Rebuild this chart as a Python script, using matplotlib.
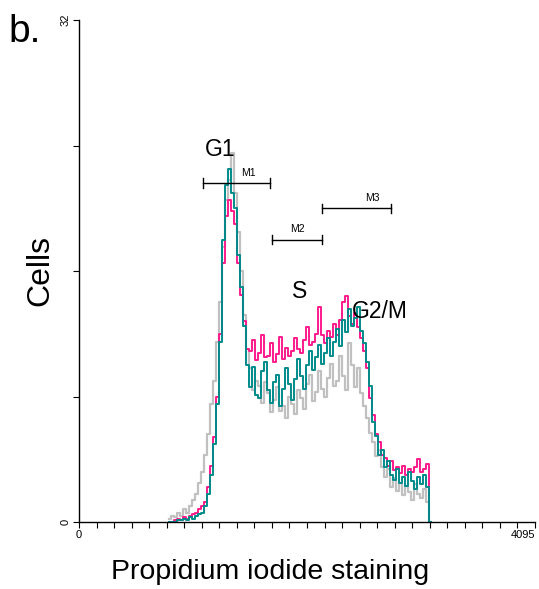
import numpy as np
import matplotlib
matplotlib.use("Agg")
import matplotlib.pyplot as plt

plt.rcParams['font.family'] = ['Liberation Sans', 'DejaVu Sans']

# histogram channels (bin centres, data units 0..4095)
bin_start = 810
bin_width = 27
gray = [0.2, 0.4, 0.3, 0.6, 0.4, 0.8, 0.6, 1.0, 1.4, 1.8,
        2.5, 3.2, 4.3, 5.6, 7.5, 9.0, 11.5, 14.0, 17.5, 20.5,
        21.8, 23.5, 21.0, 18.5, 16.0, 13.2, 11.0, 9.8, 8.4, 9.0,
        8.7, 7.6, 8.9, 8.2, 7.0, 7.8, 8.6, 7.1, 7.4, 6.6,
        8.0, 7.5, 6.9, 8.4, 7.9, 7.2, 8.8, 9.4, 7.7, 8.3,
        9.6, 8.5, 8.0, 9.2, 10.1, 8.7, 9.0, 10.6, 9.3, 8.4,
        11.4, 10.0, 8.6, 9.8, 8.2, 7.4, 6.6, 5.7, 5.1, 4.2,
        4.6, 3.5, 2.9, 3.4, 2.2, 2.8, 2.0, 2.5, 1.7, 2.3,
        1.9, 1.4, 2.4, 1.8, 1.5, 2.1, 1.3, 0.0]
magenta = [0.0, 0.0, 0.1, 0.2, 0.1, 0.3, 0.2, 0.4, 0.5, 0.6,
           0.8, 1.0, 1.3, 2.2, 3.6, 5.4, 8.0, 12.0, 16.5, 19.5,
           20.5, 19.8, 19.0, 16.5, 14.5, 12.8, 11.0, 10.9, 11.6, 10.3,
           10.8, 11.9, 10.5, 10.6, 11.4, 10.2, 10.7, 11.8, 10.4, 11.1,
           10.6, 10.9, 11.7, 11.0, 10.8, 11.6, 12.4, 11.3, 11.5, 12.0,
           13.7, 11.9, 11.4, 12.2, 11.8, 12.6, 11.9, 12.9, 14.0, 14.4,
           13.1, 12.6, 13.3, 12.4, 11.7, 10.9, 9.8, 7.9, 6.8, 5.6,
           5.1, 4.3, 4.1, 3.6, 3.9, 3.3, 3.5, 3.1, 3.6, 3.0,
           3.4, 3.2, 3.5, 4.0, 3.2, 3.4, 3.7, 0.0]
teal = [0.0, 0.0, 0.0, 0.1, 0.1, 0.2, 0.1, 0.3, 0.2, 0.4,
        0.5, 0.6, 1.0, 1.8, 3.0, 5.0, 7.5, 11.5, 18.0, 21.5,
        22.5, 21.0, 20.0, 17.0, 15.0, 12.5, 10.0, 8.6, 9.9, 8.1,
        7.9, 9.6, 10.2, 8.4, 7.6, 8.9, 9.4, 7.4, 8.5, 9.8,
        8.8, 7.8, 9.1, 10.4, 9.3, 8.5, 10.0, 10.9, 9.7, 10.5,
        11.3, 10.1, 10.8, 11.7, 10.6, 11.5, 12.3, 11.2, 12.9, 12.1,
        13.6, 12.5, 13.0, 13.7, 12.2, 11.4, 10.2, 8.7, 6.4, 5.5,
        4.3, 4.6, 3.5, 3.9, 3.0, 2.7, 3.4, 2.5, 2.9, 2.3,
        3.2, 2.6, 2.1, 2.9, 2.4, 3.0, 2.2, 0.0]

# marker gates
gate_names = ['M1', 'M2', 'M3']
gate_start = [1114, 1733, 2182]
gate_end = [1715, 2182, 2802]
gate_level = [21.6, 18.0, 20.0]
gate_label_x = [1518, 1958, 2631]

# phase labels
phase_names = ['G1', 'S', 'G2/M']
phase_x = [1270, 1985, 2703]
phase_y = [23.3, 14.3, 13.0]

W, H = 539, 589
fig = plt.figure(figsize=(W / 100, H / 100), dpi=100)
ax = fig.add_axes([79 / W, 1 - 522 / H, (535 - 79) / W, (522 - 20) / H])

x = bin_start + bin_width * np.arange(len(gray))
ax.step(x, gray, where='mid', color='#c0c0c0', lw=1.6)
ax.step(x, magenta, where='mid', color='#ff1a8c', lw=1.4)
ax.step(x, teal, where='mid', color='#008b8b', lw=1.4)

ax.set_xlim(0, 4095)
ax.set_ylim(0, 32)
for s in ['top', 'right']:
    ax.spines[s].set_visible(False)
for s in ['left', 'bottom']:
    ax.spines[s].set_linewidth(1.0)

xt = np.linspace(0, 4095, 27)
ax.set_xticks(xt)
ax.set_xticklabels(['0'] + [''] * 25 + ['4095'], fontsize=8)
xl = ax.get_xticklabels()
xl[-1].set_horizontalalignment('right')
ax.set_yticks([0, 8, 16, 24, 32])
ax.set_yticklabels(['0', '', '', '', '32'], fontsize=8, rotation=90, va='center')
ax.tick_params(axis='x', length=4, width=0.8, pad=2)
ax.tick_params(axis='y', length=4, width=0.8, pad=2)

for name, a, b, lv, lx in zip(gate_names, gate_start, gate_end, gate_level, gate_label_x):
    ax.plot([a, b], [lv, lv], color='black', lw=1.0)
    ax.plot([a, a], [lv - 0.3, lv + 0.3], color='black', lw=1.0)
    ax.plot([b, b], [lv - 0.3, lv + 0.3], color='black', lw=1.0)
    ax.text(lx, lv + 0.35, name, fontsize=7.5, ha='center', va='bottom')

for name, px, py in zip(phase_names, phase_x, phase_y):
    ax.text(px, py, name, fontsize=16.5, ha='center', va='baseline')

fig.text(8 / W, 1 - 42 / H, 'b.', fontsize=28, ha='left', va='baseline')
fig.text(40 / W, 1 - 270 / H, 'Cells', fontsize=23, rotation=90, ha='center', va='center')
fig.text(270 / W, 1 - 572 / H, 'Propidium iodide staining', fontsize=20.5, ha='center', va='center')

fig.savefig('out.png', dpi=100)
